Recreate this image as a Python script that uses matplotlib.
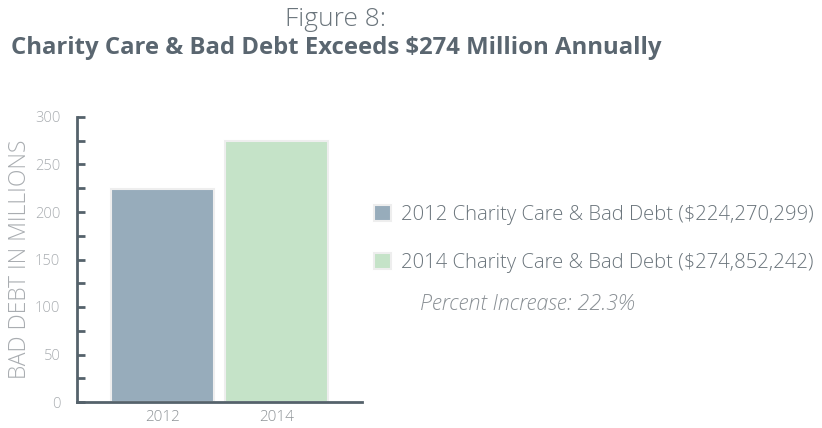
import matplotlib
matplotlib.use("Agg")
import matplotlib.pyplot as plt
from matplotlib.ticker import MultipleLocator

categories = ["2012", "2014"]
values = [224.270299, 274.852242]
legend_labels = ["2012 Charity Care & Bad Debt ($224,270,299)",
                 "2014 Charity Care & Bad Debt ($274,852,242)"]
colors = ["#97acbb", "#c5e3c8"]
yticks = [0, 50, 100, 150, 200, 250, 300]

plt.rcParams['font.family'] = ['Open Sans', 'DejaVu Sans']

fig = plt.figure(figsize=(8.22, 4.28), dpi=100)
ax = fig.add_axes([77/822, 26/428, 285/822, 285/428])

x = range(len(categories))
bars = ax.bar(x, values, width=0.9, color=colors, edgecolor="#eeeeee", linewidth=1.5, zorder=2)

ax.set_xlim(-0.75, 1.75)
ax.set_ylim(0, 300)
ax.set_xticks(list(x))
ax.set_xticklabels(categories)
ax.set_yticks(yticks)
ax.yaxis.set_minor_locator(MultipleLocator(25))

spine_col = "#55626b"
for s in ["top", "right"]:
    ax.spines[s].set_visible(False)
for s in ["left", "bottom"]:
    ax.spines[s].set_color(spine_col)
    ax.spines[s].set_linewidth(2)
ax.tick_params(axis="y", which="both", direction="in", length=6, width=2, color=spine_col,
               labelsize=10.5, labelcolor="#a9adb1", pad=12)
ax.tick_params(axis="x", length=0, labelsize=11, labelcolor="#8f9498", pad=6)
for lbl in ax.get_xticklabels() + ax.get_yticklabels():
    lbl.set_fontweight("light")

ax.set_ylabel("BAD DEBT IN MILLIONS", fontsize=16.5, color="#a9adb1",
              fontweight="light", labelpad=2)

leg = ax.legend(bars, legend_labels, loc="center left", bbox_to_anchor=(356/822, 1 - 239/428),
                bbox_transform=fig.transFigure, frameon=False, fontsize=14.6,
                handlelength=0.85, handleheight=0.85, handletextpad=0.45, labelspacing=1.4)
for t in leg.get_texts():
    t.set_color("#6b757c")
    t.set_fontweight("light")

fig.text(420/822, 1 - 304/428, "Percent Increase: 22.3%", fontsize=15.5, style="italic",
         fontweight="light", color="#8a9095", va="center", ha="left")

fig.text(336/822, 1 - 20/428, "Figure 8:", fontsize=19, color="#6b757c", fontweight="light",
         ha="center", va="center")
fig.text(336/822, 1 - 48/428, "Charity Care & Bad Debt Exceeds $274 Million Annually", fontsize=17.2,
         color="#5a6670", fontweight="bold", ha="center", va="center")

fig.savefig("out.png", dpi=100, facecolor="white")
